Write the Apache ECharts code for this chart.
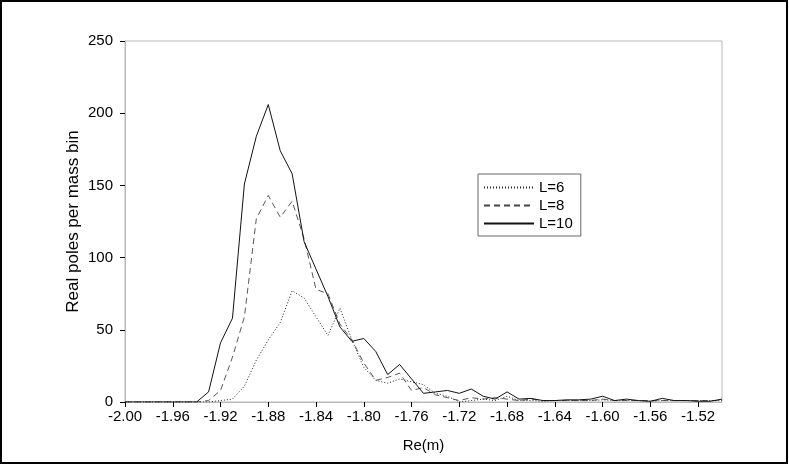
<!DOCTYPE html>
<html>
<head>
<meta charset="utf-8">
<script src="https://cdn.jsdelivr.net/npm/echarts@6/dist/echarts.min.js"></script>
<style>
html,body{margin:0;padding:0;background:#fff;}
#chart{width:789px;height:465px;}
</style>
</head>
<body>
<div id="chart"></div>
<script>
// Bin centres Re(m)
const xValues = [-2.00,-1.99,-1.98,-1.97,-1.96,-1.95,-1.94,-1.93,-1.92,-1.91,
  -1.90,-1.89,-1.88,-1.87,-1.86,-1.85,-1.84,-1.83,-1.82,-1.81,
  -1.80,-1.79,-1.78,-1.77,-1.76,-1.75,-1.74,-1.73,-1.72,-1.71,
  -1.70,-1.69,-1.68,-1.67,-1.66,-1.65,-1.64,-1.63,-1.62,-1.61,
  -1.60,-1.59,-1.58,-1.57,-1.56,-1.55,-1.54,-1.53,-1.52,-1.51,-1.50];

const seriesNames = ['L=6', 'L=8', 'L=10'];

const L6 = [0,0,0,0,0,0,0,0,1,2,
  11,29,43,55,77,72,59,46,65,43,
  24,15,13,16,14,12,6,4,0,1,
  2,1,4,1,1,0.5,1,1,1,1,
  1.5,1,1,1,0.5,1,1,1,1,1,1];

const L8 = [0,0,0,0,0,0,0,1,8,31,
  59,127,143,128,139,113,78,75,54,43,
  27,15,17,20,8,10,5,3,1,3,
  2,3,2,1,2,1,1,1,1,1,
  2,1,1,1,1,1,1,1,1,1,1];

const L10 = [0,0,0,0,0,0,0,7,41,58,
  151,184,206,174,158,111,92,73,52,42,
  44,35,19,26,16,6,7,8,6,9,
  4,2,7,2,2.5,1,1,1.5,1.5,2,
  4,1,2,1,0.5,2.5,1,1,0.5,0.5,2];

const yTicks = [0, 50, 100, 150, 200, 250];

function pairs(vals){ return xValues.map((x,i)=>[x, vals[i]]); }

const chart = echarts.init(document.getElementById('chart'), null, {renderer:'canvas'});
const font = 'Liberation Sans, Arial, Helvetica, sans-serif';

chart.setOption({
  animation: false,
  backgroundColor: '#fff',
  textStyle: { fontFamily: font },
  graphic: [{
    type: 'rect', silent: true, z: 100,
    shape: { x: 1, y: 1, width: 786, height: 462 },
    style: { fill: 'none', stroke: '#000', lineWidth: 2 }
  }],
  grid: {
    left: 125, top: 41, right: 67, bottom: 63,
    show: true, borderColor: '#b8b8b8', borderWidth: 1, backgroundColor: 'transparent'
  },
  legend: {
    left: 478, top: 174,
    orient: 'vertical',
    itemWidth: 50, itemHeight: 12, itemGap: 3,
    padding: [6, 8, 5, 5],
    borderColor: '#666', borderWidth: 1,
    backgroundColor: '#fff',
    itemStyle: { opacity: 0 },
    textStyle: { fontFamily: font, fontSize: 15, color: '#000' },
    data: seriesNames
  },
  xAxis: {
    type: 'value',
    min: -2, max: -1.5, interval: 0.04,
    name: 'Re(m)', nameLocation: 'middle', nameGap: 36, nameMoveOverlap: false,
    nameTextStyle: { fontFamily: font, fontSize: 15, color: '#000' },
    axisLine: { show: true, onZero: false, lineStyle: { color: '#b8b8b8', width: 1 } },
    axisTick: { show: true, inside: false, length: 5, lineStyle: { color: '#000' } },
    axisLabel: {
      margin: 7, color: '#000', fontSize: 15, fontFamily: font,
      showMaxLabel: false,
      formatter: v => Number(v).toFixed(2)
    },
    splitLine: { show: false }
  },
  yAxis: {
    type: 'value',
    min: yTicks[0], max: yTicks[yTicks.length-1], interval: 50,
    name: 'Real poles per mass bin', nameLocation: 'middle', nameGap: 43, nameMoveOverlap: false,
    nameTextStyle: { fontFamily: font, fontSize: 17, color: '#000' },
    axisLine: { show: true, lineStyle: { color: '#b8b8b8', width: 1 } },
    axisTick: { show: true, inside: false, length: 5, lineStyle: { color: '#000' } },
    axisLabel: { margin: 12, color: '#000', fontSize: 15, fontFamily: font },
    splitLine: { show: false }
  },
  series: [
    { name: seriesNames[0], type: 'line', data: pairs(L6), symbol: 'none',
      lineStyle: { color: '#222', width: 1, type: [1, 2] }, itemStyle: { color: '#000' } },
    { name: seriesNames[1], type: 'line', data: pairs(L8), symbol: 'none',
      lineStyle: { color: '#444', width: 0.9, type: [6, 4] }, itemStyle: { color: '#000' } },
    { name: seriesNames[2], type: 'line', data: pairs(L10), symbol: 'none',
      lineStyle: { color: '#111', width: 1, type: 'solid' }, itemStyle: { color: '#000' } }
  ]
});
</script>
</body>
</html>
